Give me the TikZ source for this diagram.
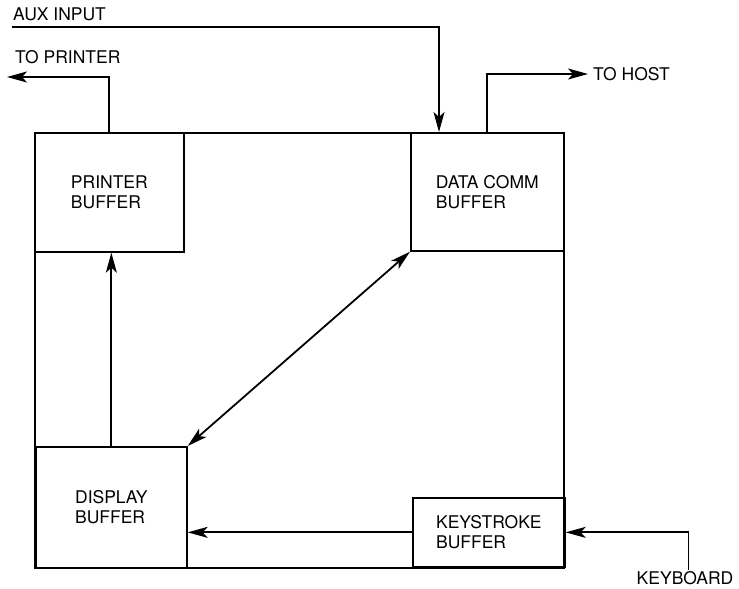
\documentclass[tikz,border=0pt]{standalone}
\usepackage{fontspec}
\setmainfont{TeX Gyre Heros}
\usetikzlibrary{arrows.meta}
\begin{document}
\begin{tikzpicture}[x=1pt,y=-1pt,
  every node/.style={font=\fontsize{17.5}{20}\selectfont, inner sep=0pt},
  buf/.style={draw, line width=1.7pt, rectangle, align=left, anchor=north west},
  lbl/.style={anchor=base west},
  conn/.style={line width=1.8pt},
  arr/.style={conn, -{Stealth[length=20pt,width=11pt,inset=5pt]}},
  darr/.style={conn, {Stealth[length=20pt,width=11pt,inset=5pt]}-{Stealth[length=20pt,width=11pt,inset=5pt]}}]
\useasboundingbox (0,0) rectangle (739,589);
% outer frame
\node[draw, line width=1.7pt, minimum width=529pt, minimum height=435pt, anchor=north west] (outer) at (34,132) {};
% buffers
\node[buf, minimum width=149pt, minimum height=119pt] (pb) at (34,132) {PRINTER\\BUFFER};
\node[buf, minimum width=153pt, minimum height=118pt] (dc) at (410,132) {DATA COMM\\BUFFER};
\node[buf, minimum width=151pt, minimum height=121pt] (db) at (35,446) {DISPLAY\\BUFFER};
\node[buf, minimum width=152pt, minimum height=69pt] (kb) at (412,497) {KEYSTROKE\\BUFFER};
% external labels
\node[lbl] (aux) at (13,20) {AUX INPUT};
\node[lbl] (toprinter) at (15,63) {TO PRINTER};
\node[lbl] (tohost) at (593,80) {TO HOST};
\node[anchor=base] (keyboard) at (685,584) {KEYBOARD};
% free ends
\coordinate (auxs) at (12,27);
\coordinate (auxd) at (439,27);
\coordinate (prn) at (7,77);
\coordinate (host) at (588,74);
\coordinate (kbd) at (688.5,570);
% connectors
\draw[arr] (auxs) -- (auxd) -- (auxd |- dc.north);
\draw[arr] (pb.north) |- (prn);
\draw[arr] (dc.north) |- (host);
\draw[arr] (kbd) |- (kb.east);
\draw[arr] (kb.west) -- (kb.west -| db.east);
\draw[arr] (db.north) -- (db.north |- pb.south);
\draw[darr] (db.north east) -- (dc.south west);
\end{tikzpicture}
\end{document}
